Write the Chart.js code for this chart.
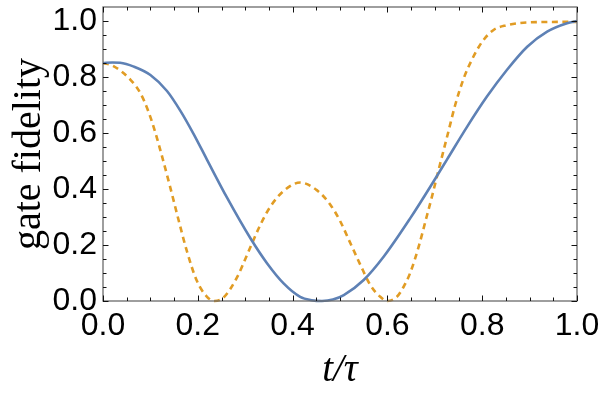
<!DOCTYPE html>
<html lang="en">
<head>
    <meta charset="UTF-8">
    <title>Gate fidelity</title>
    <script src="https://cdn.jsdelivr.net/npm/chart.js"></script>
    <style>
        html, body { margin: 0; padding: 0; background: #fff; }
        .wrap { width: 600px; height: 396px; }
    </style>
</head>
<body>
    <div class="wrap"><canvas id="graphique" width="600" height="396"></canvas></div>

    <script>
        // values (t/tau, fidelity)
        const tSolid = [0, 0.02, 0.036, 0.065, 0.1, 0.135, 0.163, 0.191, 0.219, 0.262, 0.311, 0.346, 0.381, 0.416, 0.44, 0.462, 0.485, 0.508, 0.55, 0.592, 0.648, 0.697, 0.726, 0.768, 0.81, 0.852, 0.895, 0.937, 0.979, 1];
        const fidSolid = [0.85, 0.852, 0.851, 0.837, 0.807, 0.75, 0.68, 0.597, 0.506, 0.368, 0.224, 0.135, 0.063, 0.015, 0.003, 0, 0.005, 0.021, 0.075, 0.158, 0.295, 0.426, 0.506, 0.622, 0.73, 0.825, 0.908, 0.962, 0.992, 1];

        const tDashed = [0, 0.022, 0.058, 0.079, 0.096, 0.11, 0.124, 0.142, 0.159, 0.177, 0.198, 0.219, 0.235, 0.254, 0.283, 0.304, 0.332, 0.353, 0.381, 0.416, 0.451, 0.48, 0.501, 0.522, 0.543, 0.564, 0.585, 0.6, 0.62, 0.634, 0.648, 0.666, 0.68, 0.694, 0.708, 0.719, 0.729, 0.743, 0.761, 0.778, 0.8, 0.824, 0.852, 0.88, 0.92, 1];
        const fidDashed = [0.85, 0.839, 0.79, 0.742, 0.676, 0.604, 0.52, 0.405, 0.292, 0.178, 0.072, 0.016, 0, 0.012, 0.085, 0.165, 0.272, 0.337, 0.393, 0.423, 0.396, 0.343, 0.283, 0.206, 0.129, 0.057, 0.015, 0, 0.015, 0.05, 0.1, 0.194, 0.283, 0.373, 0.468, 0.541, 0.607, 0.7, 0.795, 0.861, 0.926, 0.968, 0.985, 0.993, 0.996, 0.997];

        const xTicks = [0, 0.2, 0.4, 0.6, 0.8, 1.0];
        const yTicks = [0, 0.2, 0.4, 0.6, 0.8, 1.0];
        const minorStep = 0.05;

        const toPoints = (xs, ys) => xs.map((x, i) => ({ x: x, y: ys[i] }));

        // frame + inward ticks on all four sides
        const cadre = {
            id: 'cadre',
            afterDatasetsDraw(chart) {
                const { ctx, chartArea: a, scales: { x, y } } = chart;
                ctx.save();
                ctx.strokeStyle = '#6b6b6b';
                ctx.lineWidth = 1.3;
                ctx.strokeRect(a.left, a.top, a.right - a.left, a.bottom - a.top);

                ctx.strokeStyle = '#111';
                ctx.lineWidth = 1;
                ctx.beginPath();
                for (let i = 0; i <= 20; i++) {
                    const v = i * minorStep;
                    const major = i % 4 === 0;
                    const len = major ? 5.5 : 3.5;
                    const px = Math.round(x.getPixelForValue(v)) + 0.5;
                    ctx.moveTo(px, a.bottom); ctx.lineTo(px, a.bottom - len);
                    ctx.moveTo(px, a.top); ctx.lineTo(px, a.top + len);
                    const py = Math.round(y.getPixelForValue(v)) + 0.5;
                    ctx.moveTo(a.left, py); ctx.lineTo(a.left + len, py);
                    ctx.moveTo(a.right, py); ctx.lineTo(a.right - len, py);
                }
                ctx.stroke();
                ctx.restore();
            }
        };

        const ctx = document.getElementById('graphique').getContext('2d');
        const chart = new Chart(ctx, {
            type: 'line',
            data: {
                datasets: [{
                    data: toPoints(tSolid, fidSolid),
                    borderColor: '#5e81b5',
                    borderWidth: 2.6,
                    pointRadius: 0,
                    cubicInterpolationMode: 'monotone'
                }, {
                    data: toPoints(tDashed, fidDashed),
                    borderColor: '#e19c24',
                    borderWidth: 2.6,
                    borderDash: [6, 4.5],
                    pointRadius: 0,
                    cubicInterpolationMode: 'monotone'
                }]
            },
            options: {
                responsive: false,
                animation: false,
                clip: false,
                layout: { padding: { top: 7, right: 23, left: 0, bottom: 0 } },
                plugins: { legend: { display: false }, tooltip: { enabled: false } },
                scales: {
                    x: {
                        type: 'linear',
                        min: 0,
                        max: 1,
                        grid: { display: false, drawTicks: false },
                        border: { display: false },
                        afterBuildTicks: s => { s.ticks = xTicks.map(v => ({ value: v })); },
                        afterFit: s => { s.height = 95; s.paddingLeft = 0; s.paddingRight = 0; },
                        ticks: {
                            padding: 6,
                            color: '#000',
                            maxRotation: 0,
                            font: { family: 'Liberation Sans', size: 32 },
                            callback: v => v.toFixed(1)
                        },
                        title: {
                            display: true,
                            text: 't/τ',
                            color: '#000',
                            padding: { top: 0, bottom: 2 },
                            font: { family: 'Liberation Serif', size: 39, style: 'italic' }
                        }
                    },
                    y: {
                        min: 0,
                        max: 1.05,
                        grid: { display: false, drawTicks: false },
                        border: { display: false },
                        afterBuildTicks: s => { s.ticks = yTicks.map(v => ({ value: v })); },
                        afterFit: s => { s.width = 103; s.paddingTop = 0; s.paddingBottom = 0; },
                        ticks: {
                            padding: 6,
                            color: '#000',
                            font: { family: 'Liberation Sans', size: 32 },
                            callback: v => v.toFixed(1)
                        },
                        title: {
                            display: true,
                            text: 'gate fidelity',
                            color: '#000',
                            padding: { top: 5, bottom: 0 },
                            font: { family: 'Liberation Serif', size: 40 }
                        }
                    }
                }
            },
            plugins: [cadre]
        });
    </script>
</body>
</html>
